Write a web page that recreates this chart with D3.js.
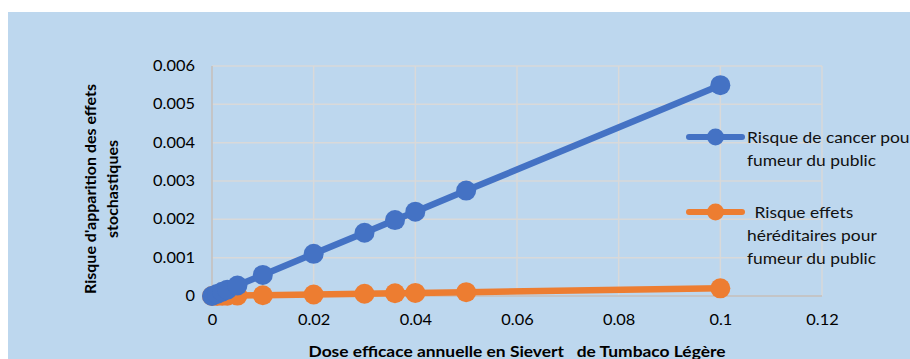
<!DOCTYPE html>
<html><head><meta charset="utf-8">
<script src="https://cdn.jsdelivr.net/npm/d3@7"></script>
<style>html,body{margin:0;padding:0;background:#fff;overflow:hidden}svg{display:block}</style>
</head><body>
<script>
const doses = [0, 0.001, 0.002, 0.003, 0.005, 0.01, 0.02, 0.03, 0.036, 0.04, 0.05, 0.1];
const cancerRisk = [0, 0.000055, 0.00011, 0.000165, 0.000275, 0.00055, 0.0011, 0.00165, 0.00198, 0.0022, 0.00275, 0.0055];
const heredRisk = [0, 0.000002, 0.000004, 0.000006, 0.00001, 0.00002, 0.00004, 0.00006, 0.000072, 0.00008, 0.0001, 0.0002];
const xTicks = [0, 0.02, 0.04, 0.06, 0.08, 0.1, 0.12];
const yTicks = [0, 0.001, 0.002, 0.003, 0.004, 0.005, 0.006];
const seriesNames = [["Risque de cancer pour", "fumeur du public"], [" Risque effets", "héréditaires pour", "fumeur du public"]];
const colors = ["#4472C4", "#ED7D31"];

const W = 910, H = 359;
const font = "Lato, 'Open Sans', sans-serif";
const SX = 1.2; // horizontal stretch of the reference text
const svg = d3.select("body").append("svg").attr("width", W).attr("height", H);
svg.append("rect").attr("x", 8).attr("y", 12).attr("width", W - 8).attr("height", H - 12).attr("fill", "#BDD7EE");

const x = d3.scaleLinear().domain([0, 0.12]).range([212, 822]);
const y = d3.scaleLinear().domain([0, 0.006]).range([296, 66]);

// gridlines
svg.append("g").selectAll("line").data(yTicks).join("line")
  .attr("x1", x(0)).attr("x2", x(0.12)).attr("y1", d => y(d)).attr("y2", d => y(d))
  .attr("stroke", "#D9D9D9").attr("stroke-width", 1.5);
svg.append("g").selectAll("line").data(xTicks).join("line")
  .attr("y1", y(0)).attr("y2", y(0.006)).attr("x1", d => x(d)).attr("x2", d => x(d))
  .attr("stroke", "#D9D9D9").attr("stroke-width", 1.5);
svg.append("line").attr("x1", x(0)).attr("x2", x(0)).attr("y1", y(0)).attr("y2", y(0.006)).attr("stroke", "#BFBFBF").attr("stroke-width", 1.5);
svg.append("line").attr("x1", x(0)).attr("x2", x(0.12)).attr("y1", y(0)).attr("y2", y(0)).attr("stroke", "#BFBFBF").attr("stroke-width", 1.5);

// axes (labels only)
const fmt = d => d === 0 ? "0" : String(+d.toFixed(3));
const yAxis = svg.append("g").attr("transform", `translate(${x(0) - 17},0)`)
  .call(d3.axisLeft(y).tickValues(yTicks).tickFormat(fmt).tickSize(0).tickPadding(0));
const xAxis = svg.append("g").attr("transform", `translate(0,${y(0) + 19})`)
  .call(d3.axisBottom(x).tickValues(xTicks).tickFormat(fmt).tickSize(0).tickPadding(0));
[yAxis, xAxis].forEach(a => {
  a.select(".domain").remove();
  a.selectAll("text").attr("font-family", font).attr("font-size", 14.5).attr("fill", "#000");
});
yAxis.selectAll(".tick text").attr("transform", "scale(1.13,1)");
xAxis.selectAll(".tick text").attr("transform", "scale(1.13,1)");

// series
const data = [cancerRisk, heredRisk];
const line = d3.line().x(d => x(d[0])).y(d => y(d[1]));
data.slice().reverse().forEach((vals, ri) => {
  const i = data.length - 1 - ri;
  const pts = doses.map((d, k) => [d, vals[k]]);
  svg.append("path").datum(pts).attr("d", line).attr("fill", "none")
    .attr("stroke", colors[i]).attr("stroke-width", 6.5).attr("stroke-linejoin", "round");
  svg.append("g").selectAll("circle").data(pts).join("circle")
    .attr("cx", d => x(d[0])).attr("cy", d => y(d[1])).attr("r", 10).attr("fill", colors[i]);
});

// titles
svg.append("text").attr("transform", `translate(517,357) scale(${SX},1)`).attr("text-anchor", "middle")
  .attr("font-family", font).attr("font-size", 14.5).attr("font-weight", "bold")
  .style("white-space", "pre")
  .text("Dose efficace annuelle en Sievert   de Tumbaco Légère");
const yt = svg.append("text").attr("transform", "translate(96,189) rotate(-90)").attr("text-anchor", "middle")
  .attr("font-family", font).attr("font-size", 16).attr("font-weight", "bold");
yt.append("tspan").attr("x", 0).attr("dy", 0).text("Risque d'apparition des effets");
yt.append("tspan").attr("x", 0).attr("dy", 22).text("stochastiques");

// legend
const legY = [137, 212];
const legTextX = [747, 750];
seriesNames.forEach((lines, i) => {
  const g = svg.append("g");
  g.append("line").attr("x1", 689).attr("x2", 742).attr("y1", legY[i]).attr("y2", legY[i])
    .attr("stroke", colors[i]).attr("stroke-width", 6).attr("stroke-linecap", "round");
  g.append("circle").attr("cx", 715.5).attr("cy", legY[i]).attr("r", 8.5).attr("fill", colors[i]);
  lines.forEach((l, k) => {
    g.append("text").attr("transform", `translate(${k === 0 ? legTextX[i] : 747},${legY[i] + 6 + k * 23}) scale(${SX},1)`)
      .attr("font-family", font).attr("font-size", 14.5).attr("fill", "#111")
      .style("white-space", "pre").text(l);
  });
});
</script>
</body></html>
